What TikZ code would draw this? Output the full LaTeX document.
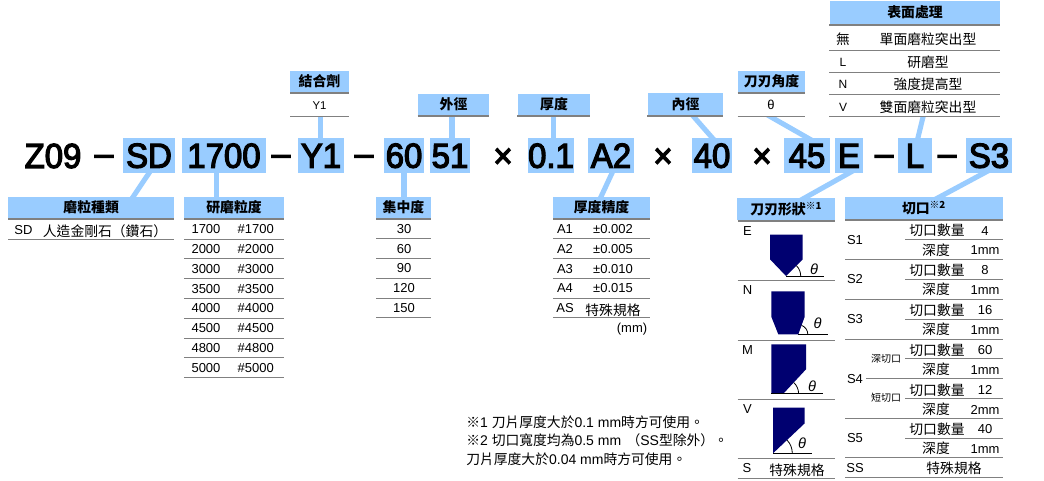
\documentclass[tikz,border=0pt]{standalone}
\usepackage{fontspec}
\setmainfont{Liberation Sans}
\newfontfamily\cjk{Noto Sans CJK TC}
\newfontfamily\codefont[FakeStretch=0.95,FakeBold=3.5]{Liberation Sans}
\usetikzlibrary{backgrounds,calc}
\definecolor{hdrblue}{HTML}{99CCFF}
\definecolor{ruleg}{HTML}{808080}
\definecolor{navy}{HTML}{000070}
\newcommand\Cj[1]{{\cjk\fontsize{10.35}{12}\selectfont #1}}
\tikzset{
  x=0.75pt,y=-0.75pt,
  sized/.style 2 args={minimum width=#1*0.75pt,minimum height=#2*0.75pt},
  codebox/.style={fill=hdrblue,inner sep=0pt,text height=18.6pt,text depth=0pt,minimum height=26pt,
     font=\codefont\fontsize{26}{30}\selectfont},
  codetxt/.style={inner sep=0pt,text height=18.6pt,text depth=0pt,font=\codefont\fontsize{26}{30}\selectfont},
  hdr/.style={fill=hdrblue,inner sep=0pt,font=\fontsize{10.4}{12}\selectfont\cjk\bfseries},
  cell/.style={inner sep=0pt,font=\fontsize{9.75}{12}\selectfont},
  tiny cell/.style={inner sep=0pt,font=\fontsize{7.5}{9}\selectfont\cjk},
  note/.style={inner sep=0pt,anchor=west,font=\fontsize{10.5}{12}\selectfont},
  thinrule/.style={draw=ruleg,line width=0.75pt},
  thickrule/.style={draw=ruleg,line width=1.6pt},
  conn/.style={draw=hdrblue,line width=3.8pt,shorten >=-6pt,shorten <=-6pt},
  blade/.style={fill=navy,draw=none},
  baseln/.style={draw=black,line width=0.75pt},
  anglearc/.style={draw=black,line width=0.6pt},
  theta/.style={inner sep=0pt,font=\fontsize{11}{12}\selectfont\itshape},
}
\begin{document}
\begin{tikzpicture}
\useasboundingbox (0,0) rectangle (1044,480);
% === model code row ===
\node[codetxt] (cZ) at (53,155.5) {Z09};
\node[codetxt] (d1) at (104,152.8) {–};
\node[codebox,sized={52}{35}] (cSD) at (149,155.3) {SD};
\node[codebox,sized={84}{35}] (cGrit) at (224,155.3) {1700\hspace{3pt}};
\node[codetxt] (d2) at (281,152.8) {–};
\node[codebox,sized={46}{35}] (cY1) at (321,155.3) {Y1};
\node[codetxt] (d3) at (364,152.8) {–};
\node[codebox,sized={40}{35}] (cConc) at (404,155.3) {60};
\node[codebox,sized={40}{35}] (cOD) at (450,155.3) {51};
\node[codetxt] (m1) at (503,155.3) {×};
\node[codebox,sized={46}{35}] (cThk) at (551,155.3) {0.1};
\node[codebox,sized={46}{35}] (cTol) at (611,155.3) {A2};
\node[codetxt] (m2) at (663,155.3) {×};
\node[codebox,sized={40}{35}] (cID) at (712,155.3) {40};
\node[codetxt] (m3) at (762,155.3) {×};
\node[codebox,sized={46}{35}] (cAng) at (807,155.3) {45};
\node[codebox,sized={28}{35}] (cShape) at (849,155.3) {E};
\node[codetxt] (d4) at (884,152.8) {–};
\node[codebox,sized={34}{35}] (cSurf) at (915,155.3) {L};
\node[codetxt] (d5) at (947,152.8) {–};
\node[codebox,sized={46}{35}] (cSlot) at (989,155.3) {S3};
% === upper headers ===
\node[hdr,sized={59}{21}] (hBond) at (319.5,81.5) {結合劑};
\node[hdr,sized={71.5}{21}] (hOD) at (453.5,104.5) {外徑};
\node[hdr,sized={72.5}{21}] (hThk) at (554,104.5) {厚度};
\node[hdr,sized={75}{22}] (hID) at (685.5,104) {內徑};
\node[hdr,sized={67}{21}] (hAng) at (771.5,81.5) {刀刃角度};
\node[hdr,sized={170}{24}] (hSurf) at (915,12.5) {表面處理};
% === lower headers ===
\node[hdr,sized={165.6}{21}] (hSD) at (91.2,207.5) {磨粒種類};
\node[hdr,sized={100}{21}] (hGrit) at (234,207.5) {研磨粒度};
\node[hdr,sized={55}{21}] (hConc) at (403.5,207.5) {集中度};
\node[hdr,sized={97}{21}] (hTol) at (601.5,207.5) {厚度精度};
\node[hdr,sized={97.5}{22}] (hShape) at (786.2,209) {刀刃形狀\textsuperscript{※1}};
\node[hdr,sized={158}{22}] (hSlot) at (924,208) {切口\textsuperscript{※2}};
% === connector free ends ===
\coordinate (eBond) at (320.7,117);
\coordinate (eOD) at (452,117);
\coordinate (eThk) at (553.3,117);
\coordinate (eID) at (694,117);
\coordinate (eAng) at (771,117);
\coordinate (eSurf) at (923,117);
% === connectors, behind the boxes ===
\begin{scope}[on background layer]
\clip (0,117.6) rectangle (1044,200);
\draw[conn] (eBond) -- (eBond |- cY1.north);
\draw[conn] (eOD) -- (eOD |- cOD.north);
\draw[conn] (eThk) -- (eThk |- cThk.north);
\draw[conn] (eID) -- (cID.north);
\draw[conn] (eAng) -- (cAng.north);
\draw[conn] (eSurf) -- ($(cSurf.north)+(3,0)$);
\draw[conn] (cSD.south) -- ($(hSD.north west)+(125,0)$);
\draw[conn] (cGrit.south -| 216.7,0) -- (hGrit.north -| 216.7,0);
\draw[conn] (cConc.south) -- (hConc.north -| cConc.south);
\draw[conn] ($(cTol.south)+(1,0)$) -- ($(hTol.north)+(-0.5,0)$);
\draw[conn] (cShape.south) -- ($(hShape.north)+(18.8,0)$);
\draw[conn] ($(cSlot.south)+(-5,0)$) -- ($(hSlot.north)+(16,0)$);
\end{scope}
% === rules ===
\foreach \a/\b/\c in {290/349/93,417.5/489/116,517/590/116,647/723/116,737.5/805/93,829/1000/25,
    8.3/174/219,184/284/219,376/431/219,553/650/219,737.5/835/220.6,845/1003/219.6}
  \draw[thickrule] (\a,\c) -- (\b,\c);
\foreach \a/\b/\c in {290/349/116.7,737.5/805/116.3,829/1000/50.3,829/1000/72.3,829/1000/94.3,829/1000/116.3,
    8.3/174/239.3,
    184/284/239.3,184/284/258.3,184/284/278.3,184/284/298.3,184/284/318.3,184/284/338.3,184/284/357.3,184/284/377.3,
    376/431/238.3,376/431/258.3,376/431/278.3,376/431/298.3,376/431/317.3,
    553/650/238.3,553/650/258.3,553/650/278.3,553/650/298.3,553/650/317.3,
    737.5/835/280.3,737.5/835/340.3,737.5/835/399.3,737.5/835/458.3,737.5/835/478.3,
    845/1003/259.3,845/1003/299.3,845/1003/339.3,845/1003/418.3,845/1003/457.3,845/1003/477.3,
    905/1003/239.3,905/1003/279.3,905/1003/319.3,905/1003/358.3,905/1003/398.3,905/1003/438.3,
    866/1003/378.3}
  \draw[thinrule] (\a,\c) -- (\b,\c);
% === table text ===
\node[cell,font=\fontsize{8.5}{10}\selectfont] (tY1) at (319.5,106) {Y1};
\node[cell] (tAng) at (771,105) {θ};
\foreach \lab/\txt/\y [count=\i] in {\Cj{無}/單面磨粒突出型/39,L/研磨型/62,N/強度提高型/84,V/雙面磨粒突出型/107}
 { \node[cell,font=\fontsize{9}{11}\selectfont] (sA\i) at (843,\y) {\lab};
   \node[cell] (sB\i) at (928,\y) {\Cj{\txt}}; }
\node[cell] (sdA) at (23.5,230) {SD};
\node[cell] (sdB) at (105,231) {\Cj{人造金剛石（鑽石）}};
\foreach \n/\y [count=\i] in {1700/229,2000/249,3000/269,3500/289,4000/308.3,4500/328.3,4800/348,5000/368}
 { \node[cell] (gA\i) at (206,\y) {\n};
   \node[cell] (gB\i) at (255.7,\y) {\#\n}; }
\foreach \n/\y [count=\i] in {30/229,60/249,90/268,120/288,150/308}
  \node[cell] (cn\i) at (404,\y) {\n};
\foreach \a/\b/\y [count=\i] in {A1/±0.002/229,A2/±0.005/249,A3/±0.010/269,A4/±0.015/288}
 { \node[cell] (tA\i) at (565,\y) {\a};
   \node[cell] (tB\i) at (613,\y) {\b}; }
\node[cell] (tA5) at (565,308) {AS};
\node[cell] (tB5) at (613,310) {\Cj{特殊規格}};
\node[cell] (tmm) at (632,329) {(mm)};
% === blade shapes ===
\foreach \lab/\y [count=\i] in {E/231,N/290,M/350,V/409}
  \node[cell] (bL\i) at (747.5,\y) {\lab};
\coordinate (oE) at (786,276);
\coordinate (oN) at (798.3,334.3);
\coordinate (oM) at (783.3,393.7);
\coordinate (oV) at (773,453.3);
\fill[blade] (770,234.7) -- (802.7,234.7) -- (802.7,259.3) -- (oE) -- (770,259.3) -- cycle;
\draw[baseln] (oE) -- ++(38,0);
\draw[anglearc] ($(oE)+(14.7,0)$) arc[start angle=0,end angle=-45,radius=14.7];
\node[theta] (th1) at (814,269.3) {θ};
\fill[blade] (771.3,291.3) -- (804.7,291.3) -- (804.7,316.7) -- (oN) -- (778.3,334.3) -- (771.3,316.7) -- cycle;
\draw[baseln] (oN) -- ++(29.4,0);
\draw[anglearc] ($(oN)+(9.5,0)$) arc[start angle=0,end angle=-70,radius=9.5];
\node[theta] (th2) at (817.7,323.3) {θ};
\fill[blade] (771.3,344.3) -- (806,344.3) -- (806,369.3) -- (oM) -- (771.3,393.7) -- cycle;
\draw[baseln] (771.3,393.7) -- ++(51.7,0);
\draw[anglearc] ($(oM)+(15.3,0)$) arc[start angle=0,end angle=-47,radius=15.3];
\node[theta] (th3) at (812,386) {θ};
\fill[blade] (773,407.7) -- (804.7,407.7) -- (804.7,423.3) -- (oV) -- cycle;
\draw[baseln] (oV) -- ++(39.3,0);
\draw[anglearc] ($(oV)+(19.3,0)$) arc[start angle=0,end angle=-43,radius=19.3];
\node[theta] (th4) at (802,443.3) {θ};
\node[cell] (bS) at (747,468) {S};
\node[cell] (bSt) at (797,470) {\Cj{特殊規格}};
% === slot table ===
\foreach \lab/\y [count=\i] in {S1/240,S2/279,S3/319,S4/379,S5/438,SS/468}
  \node[cell] (sl\i) at (855,\y) {\lab};
\foreach \n/\d/\y [count=\i] in {4/1mm/230.6,8/1mm/270,16/1mm/310,60/1mm/350,12/2mm/390,40/1mm/429}
 { \node[cell] (cq\i) at (937,\y) {\Cj{切口數量}};
   \node[cell] (cv\i) at (985,\y) {\n};
   \node[cell] (dq\i) at (936,\y+19.7) {\Cj{深度}};
   \node[cell] (dv\i) at (985,\y+19.7) {\d}; }
\node[tiny cell] (deep) at (886,359) {深切口};
\node[tiny cell] (short) at (886,398) {短切口};
\node[cell] (slS) at (954,468) {\Cj{特殊規格}};
% === notes ===
\node[note] (n1) at (466,422.7) {\Cj{※}1 \Cj{刀片厚度大於}0.1 mm\Cj{時方可使用。}};
\node[note] (n2) at (466,440.7) {\Cj{※}2 \Cj{切口寬度均為}0.5 mm\hspace{4pt}\Cj{（}SS\Cj{型除外）。}};
\node[note] (n3) at (466,459) {\Cj{刀片厚度大於}0.04 mm\Cj{時方可使用。}};
\end{tikzpicture}
\end{document}
